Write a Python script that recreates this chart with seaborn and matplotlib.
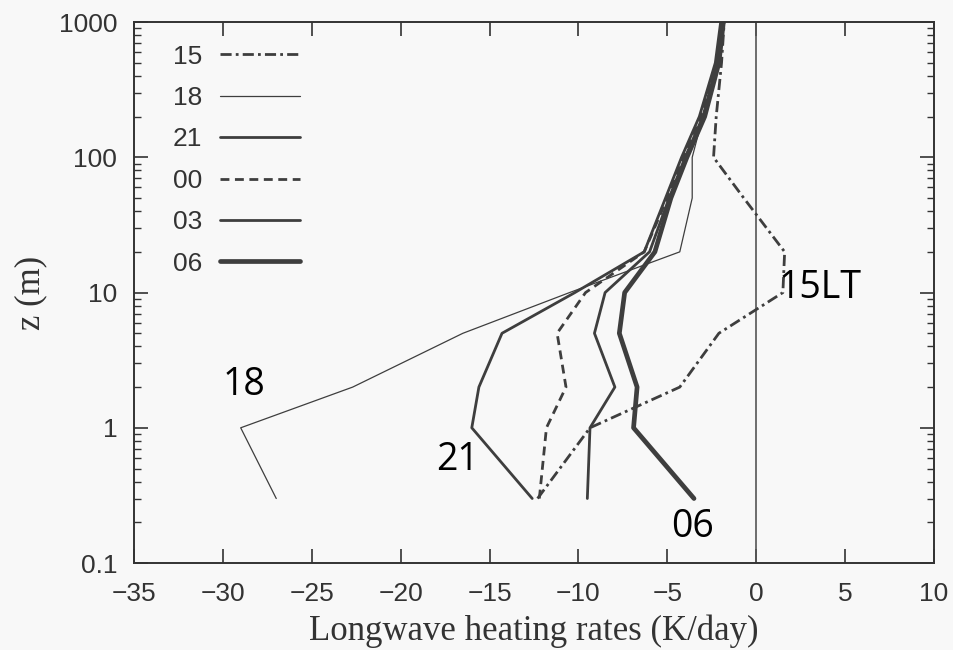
import matplotlib
matplotlib.use("Agg")
import matplotlib.pyplot as plt
import seaborn as sns
import pandas as pd
from matplotlib.ticker import FixedLocator, FixedFormatter, NullFormatter

# ---- data ----
heights = [0.3, 1, 2, 5, 10, 20, 50, 100, 200, 500, 1000]
h15 = [-12.3, -9.35, -4.3, -2.1, 1.5, 1.6, -0.7, -2.4, -2.25, -1.95, -1.8]
h18 = [-27.0, -29.0, -22.7, -16.5, -10.5, -4.3, -3.6, -3.6, -3.0, -2.2, -1.9]
h21 = [-12.6, -16.0, -15.6, -14.3, -10.2, -6.3, -5.1, -4.2, -3.2, -2.3, -2.0]
h00 = [-12.2, -11.8, -10.7, -11.2, -9.6, -6.3, -5.0, -4.1, -3.1, -2.2, -1.95]
h03 = [-9.5, -9.35, -7.95, -9.1, -8.5, -6.0, -4.9, -4.0, -3.0, -2.2, -1.9]
h06 = [-3.5, -6.9, -6.7, -7.7, -7.4, -5.7, -4.8, -3.9, -2.9, -2.1, -1.85]
series_names = ["15", "18", "21", "00", "03", "06"]
series_values = [h15, h18, h21, h00, h03, h06]
xticks = [-35, -30, -25, -20, -15, -10, -5, 0, 5, 10]
yticks = [0.1, 1, 10, 100, 1000]
ytick_labels = ["0.1", "1", "10", "100", "1000"]
annotations = [("18", -28.8, 2.07), ("21", -16.8, 0.58), ("06", -3.6, 0.185), ("15LT", 3.6, 10.8)]

# ---- style ----
sns.set_style("ticks")
plt.rcParams["font.family"] = ["Liberation Sans", "DejaVu Sans"]
line_col = "#3e3e3e"
styles = {
    "15": dict(lw=2.0, dashes=(4.0, 1.5, 1.0, 1.5)),
    "18": dict(lw=0.9, dashes=None),
    "21": dict(lw=2.0, dashes=None),
    "00": dict(lw=2.0, dashes=(3.2, 2.0)),
    "03": dict(lw=2.0, dashes=None),
    "06": dict(lw=3.4, dashes=None),
}

fig = plt.figure(figsize=(9.54, 6.5), dpi=100, facecolor="#f8f8f8")
ax = fig.add_axes([0.1405, 0.1338, 0.8385, 0.8322])
ax.set_facecolor("#f8f8f8")

for name, vals in zip(series_names, series_values):
    df = pd.DataFrame({"rate": vals, "z": heights})
    st = styles[name]
    sns.lineplot(data=df, x="rate", y="z", sort=False, estimator=None, ax=ax,
                 color=line_col, linewidth=st["lw"], label=name)
    ln = ax.get_lines()[-1]
    if st["dashes"] is not None:
        ln.set_dashes(st["dashes"])

ax.axvline(0, color="#555555", lw=1.2, zorder=1)

ax.set_yscale("log")
ax.set_xlim(-35, 10)
ax.set_ylim(0.1, 1000)
ax.xaxis.set_major_locator(FixedLocator(xticks))
ax.yaxis.set_major_locator(FixedLocator(yticks))
ax.yaxis.set_major_formatter(FixedFormatter(ytick_labels))
ax.yaxis.set_minor_formatter(NullFormatter())
ax.tick_params(axis="both", which="major", direction="in", length=10, width=1.2,
               top=True, right=True, labelsize=19, colors="#333333")
ax.tick_params(axis="x", which="major", pad=14)
ax.tick_params(axis="y", which="major", pad=12)
ax.tick_params(axis="y", which="minor", direction="in", length=5, width=1.0,
               left=True, right=True, colors="#333333")
for sp in ax.spines.values():
    sp.set_linewidth(1.4)
    sp.set_color("#333333")

ax.set_xlabel("Longwave heating rates (K/day)", family=["Liberation Serif"], fontsize=25,
              color="#333333", labelpad=6)
ax.set_ylabel("z (m)", family=["Liberation Serif"], fontsize=25, color="#333333", labelpad=8)

for txt, xv, zv in annotations:
    ax.text(xv, zv, txt, ha="center", va="center", fontsize=27, color="black",
            family=["Open Sans", "DejaVu Sans"])

leg = ax.legend(loc="upper left", frameon=False, markerfirst=False, fontsize=19,
                handlelength=3.0, labelspacing=0.66, handletextpad=0.7,
                bbox_to_anchor=(0.035, 0.978), borderaxespad=0)
for t in leg.get_texts():
    t.set_color("#333333")

fig.savefig("out.png", dpi=100, facecolor=fig.get_facecolor())
